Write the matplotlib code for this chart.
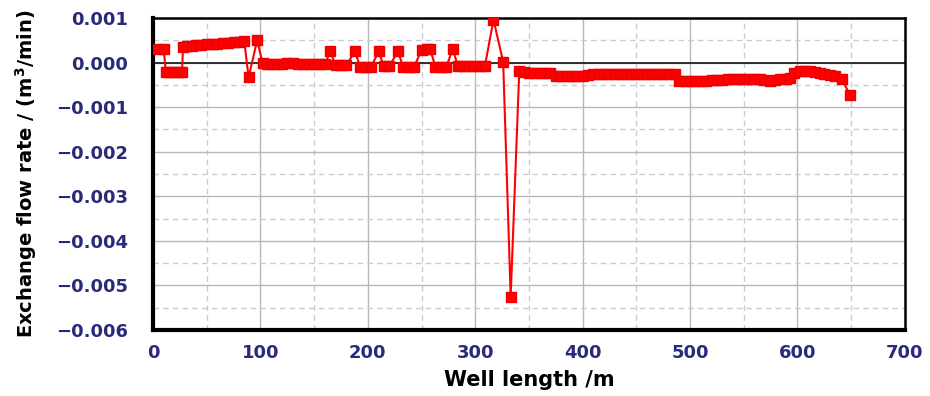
import matplotlib.pyplot as plt
from matplotlib.ticker import MultipleLocator, FuncFormatter

# ---- data ----
well_length = [5, 10, 12, 16, 20, 24, 27, 28, 32, 36, 40, 45, 50, 55, 60, 65, 70, 75, 80, 85,
               89, 97, 102, 106, 110, 115, 120, 125, 130, 135, 140, 145, 150, 155, 160,
               165, 170, 175, 180, 188, 193, 198, 203, 210, 215, 220, 228, 233, 238, 243,
               250, 255, 258, 263, 268, 273, 279, 284, 289, 294, 299, 304, 309,
               317, 326, 333, 341, 345, 350, 355, 360, 365, 370, 375, 380, 385, 390, 395, 400, 405,
               410, 415, 420, 425, 430, 435, 440, 445, 450, 455, 460, 465, 470, 475, 480, 486,
               490, 495, 500, 505, 510, 515, 520, 525, 530, 535, 540, 545, 550, 555, 560, 565, 569,
               574, 579, 584, 589, 593, 597, 602, 607, 612, 616, 621, 625, 630, 635, 641, 649]
flow_rate = [0.00030, 0.00030, -0.00022, -0.00022, -0.00022, -0.00022, -0.00022,
             0.00036, 0.00037, 0.00038, 0.00040, 0.00040, 0.00041, 0.00042, 0.00042, 0.00044,
             0.00045, 0.00046, 0.00047, 0.00048,
             -0.00033, 0.00050, -0.00001, -0.00003, -0.00004, -0.00004, -0.00003, -0.00002,
             -0.00002, -0.00003, -0.00004, -0.00004, -0.00004, -0.00004, -0.00004,
             0.00025, -0.00006, -0.00006, -0.00006, 0.00025, -0.00010, -0.00010, -0.00010,
             0.00025, -0.00008, -0.00008, 0.00025, -0.00010, -0.00010, -0.00010,
             0.00028, 0.00030, 0.00030, -0.00010, -0.00010, -0.00010, 0.00030,
             -0.00008, -0.00008, -0.00008, -0.00008, -0.00008, -0.00008,
             0.00096, 0.00002, -0.00525, -0.00018, -0.00022, -0.00023, -0.00024, -0.00024,
             -0.00024, -0.00024, -0.00029, -0.00029, -0.00029, -0.00029, -0.00029, -0.00029, -0.00027,
             -0.00025, -0.00025, -0.00025, -0.00025, -0.00025, -0.00025, -0.00025, -0.00025,
             -0.00025, -0.00025, -0.00025, -0.00025, -0.00025, -0.00025, -0.00025, -0.00025,
             -0.00041, -0.00041, -0.00041, -0.00041, -0.00041, -0.00041, -0.00040, -0.00039,
             -0.00038, -0.00037, -0.00037, -0.00037, -0.00037, -0.00037, -0.00037, -0.00037, -0.00038,
             -0.00041, -0.00038, -0.00036, -0.00036, -0.00035, -0.00024, -0.00020, -0.00019,
             -0.00020, -0.00021, -0.00023, -0.00025, -0.00027, -0.00030, -0.00036, -0.00073]

navy = '#2a2a7a'
plt.rcParams['font.family'] = ['DejaVu Sans']

fig = plt.figure(figsize=(9.3, 3.96), dpi=100)
ax = fig.add_axes([0.1645, 0.1667, 0.8085, 0.7878])

ax.plot(well_length, flow_rate, color='#ff0000', lw=1.5, marker='s', ms=7,
        mec='#ee0000', mfc='#ff0000', zorder=3)
ax.axhline(0, color='#222222', lw=1.3, zorder=2)

ax.set_xlim(0, 700)
ax.set_ylim(-0.006, 0.001)
ax.xaxis.set_major_locator(MultipleLocator(100))
ax.xaxis.set_minor_locator(MultipleLocator(50))
ax.yaxis.set_major_locator(MultipleLocator(0.001))
ax.yaxis.set_minor_locator(MultipleLocator(0.0005))
ax.yaxis.set_major_formatter(FuncFormatter(lambda v, p: ('%.3f' % v).replace('-', '\u2212')))

ax.grid(which='major', color='#b8b8b8', lw=1.0, ls='-')
ax.grid(which='minor', color='#c4ccd4', lw=1.0, ls=(0, (4, 3)))
ax.set_axisbelow(True)

ax.tick_params(axis='y', which='both', length=0, pad=18)
ax.tick_params(axis='x', which='both', length=0, pad=10)
for lab in ax.get_xticklabels() + ax.get_yticklabels():
    lab.set_fontsize(13)
    lab.set_fontweight('bold')
    lab.set_color(navy)

ax.spines['left'].set_linewidth(3)
ax.spines['bottom'].set_linewidth(3)
ax.spines['top'].set_linewidth(1.8)
ax.spines['right'].set_linewidth(1.8)

ax.set_xlabel('Well length /m', fontsize=15, fontweight='bold', labelpad=6)
ax.set_ylabel('Exchange flow rate / (m$^\\mathbf{3}$/min)', fontsize=14, fontweight='bold', labelpad=12)

fig.savefig('out.png', dpi=100)
